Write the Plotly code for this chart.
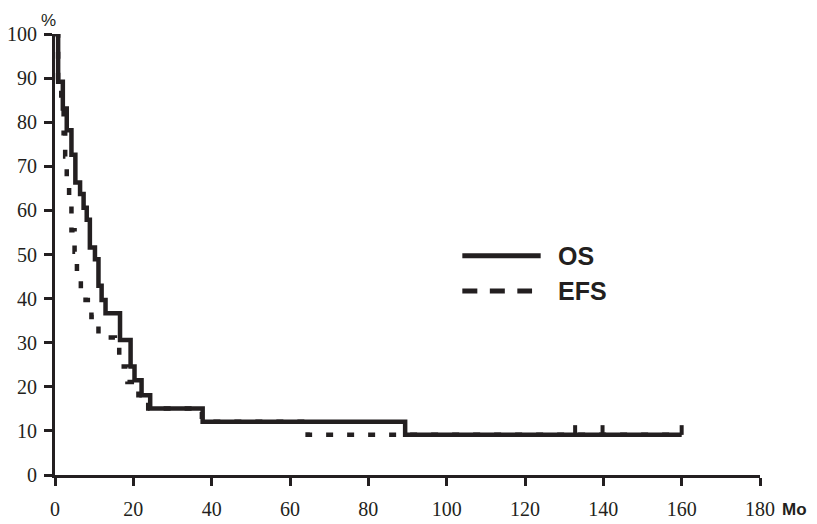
import plotly.graph_objects as go

# Overall survival (OS) step points: months, percent
os_months = [0, 0.8, 2.0, 3.0, 4.2, 5.2, 6.4, 7.3, 8.1, 8.9, 10.2, 11.1, 11.9, 12.9,
             16.6, 19.3, 20.3, 22.1, 24.3, 37.7, 89.4, 160]
os_pct = [100, 89.2, 83.1, 78.2, 72.6, 66.3, 63.7, 60.6, 57.9, 51.6, 48.9, 42.9, 39.7, 36.7,
          30.6, 24.6, 21.5, 18.1, 15.1, 12.1, 9.1, 9.1]
# censor marks on OS
os_censor_months = [132.8, 139.8, 160]
os_censor_pct = [9.1, 9.1, 9.1]

# Event-free survival (EFS) step points
efs_months = [0, 0.8, 1.6, 2.2, 2.6, 3.0, 3.6, 4.2, 5.0, 5.6, 6.6, 7.8, 9.3, 11.1,
              15.3, 16.4, 18.5, 21.3, 23.8, 37.5, 64.5, 160]
efs_pct = [100, 89.2, 83.1, 77.5, 72.2, 66.0, 61.0, 55.5, 50.6, 45.6, 42.2, 39.7, 35.8, 31.2,
           29.5, 24.6, 21.1, 18.1, 15.1, 12.1, 9.1, 9.1]

x_ticks = [0, 20, 40, 60, 80, 100, 120, 140, 160, 180]
y_ticks = [0, 10, 20, 30, 40, 50, 60, 70, 80, 90, 100]
legend_labels = ["OS", "EFS"]

INK = "#231f20"
SERIF = "Liberation Serif"
SANS = "Liberation Sans"

fig = go.Figure()
fig.add_trace(go.Scatter(x=efs_months, y=efs_pct, mode="lines", line_shape="hv",
                         line=dict(color=INK, width=4.5, dash="7px,14px"),
                         name=legend_labels[1], showlegend=False))
fig.add_trace(go.Scatter(x=os_months, y=os_pct, mode="lines", line_shape="hv",
                         line=dict(color=INK, width=4.5),
                         name=legend_labels[0], showlegend=False))
fig.add_trace(go.Scatter(x=os_censor_months, y=os_censor_pct, mode="markers",
                         marker=dict(size=1, color=INK),
                         error_y=dict(type="data", symmetric=False,
                                      array=[2.2] * len(os_censor_months),
                                      arrayminus=[0] * len(os_censor_months),
                                      color=INK, thickness=4, width=0),
                         showlegend=False, cliponaxis=False))

# manual legend
fig.add_shape(type="line", xref="x", yref="y", x0=104, x1=124, y0=49.7, y1=49.7,
              line=dict(color=INK, width=5))
fig.add_shape(type="line", xref="x", yref="y", x0=104, x1=121.8, y0=41.7, y1=41.7,
              line=dict(color=INK, width=5, dash="15px,12.5px"))
fig.add_annotation(x=128, y=49.7, xref="x", yref="y", text="<b>%s</b>" % legend_labels[0],
                   showarrow=False, xanchor="left", yanchor="middle",
                   font=dict(family=SANS, size=25, color=INK))
fig.add_annotation(x=128, y=41.7, xref="x", yref="y", text="<b>%s</b>" % legend_labels[1],
                   showarrow=False, xanchor="left", yanchor="middle",
                   font=dict(family=SANS, size=25, color=INK))

# axis unit labels
fig.add_annotation(x=0, y=1, xref="paper", yref="paper", text="%", showarrow=False,
                   xanchor="center", yanchor="middle", xshift=-7, yshift=14,
                   font=dict(family=SANS, size=17, color=INK))
fig.add_annotation(x=1, y=0, xref="paper", yref="paper", text="<b>Mo</b>", showarrow=False,
                   xanchor="left", yanchor="middle", xshift=20, yshift=-34,
                   font=dict(family=SANS, size=17, color=INK))

fig.update_xaxes(range=[0, 180], tickvals=x_ticks, ticktext=[str(v) for v in x_ticks],
                 showline=True, linecolor=INK, linewidth=3, ticks="outside", ticklen=8,
                 tickwidth=3, tickcolor=INK, showgrid=False, zeroline=False,
                 ticklabelstandoff=6, automargin=False,
                 tickfont=dict(family=SERIF, size=20, color=INK))
fig.update_yaxes(range=[0, 100], tickvals=y_ticks, ticktext=[str(v) for v in y_ticks],
                 showline=True, linecolor=INK, linewidth=3, ticks="outside", ticklen=8,
                 tickwidth=3, tickcolor=INK, showgrid=False, zeroline=False,
                 ticklabelstandoff=3, automargin=False,
                 tickfont=dict(family=SERIF, size=20, color=INK))

# page body has an 8px margin, so the figure is sized to fit the window
fig.update_layout(width=809, height=516, margin=dict(l=47, r=57, t=26, b=49),
                  plot_bgcolor="white", paper_bgcolor="white")

fig.write_html("out.html")
